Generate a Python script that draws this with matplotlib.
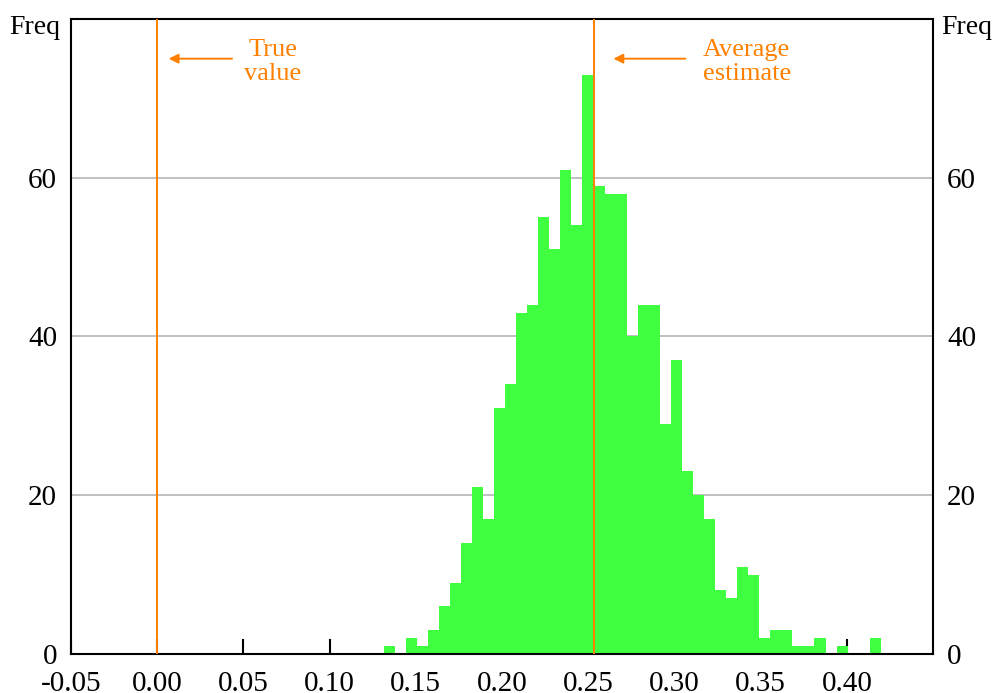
import numpy as np
import matplotlib
matplotlib.use("Agg")
import matplotlib.pyplot as plt

plt.rcParams.update({
    "font.family": ["Liberation Serif", "DejaVu Serif"],
    "axes.unicode_minus": False,
})

# histogram of the estimates (45 equal bins)
BIN_LO = 0.1313
BIN_HI = 0.4197
COUNTS = [1, 0, 2, 1, 3, 6, 9, 14, 21, 17,
          31, 34, 43, 44, 55, 51, 61, 54, 73, 59,
          58, 58, 40, 44, 44, 29, 37, 23, 20, 17,
          8, 7, 11, 10, 2, 3, 3, 1, 1, 2,
          0, 1, 0, 0, 2]
TRUE_VALUE = 0.0
AVG_ESTIMATE = 0.2535
XTICKS = [-0.05, 0.00, 0.05, 0.10, 0.15, 0.20, 0.25, 0.30, 0.35, 0.40]
YTICKS = [0, 20, 40, 60]

GREEN = "#40ff40"
ORANGE = "#ff8000"

fig = plt.figure(figsize=(9.95, 6.93), dpi=100)
ax = fig.add_axes([0.0714, 0.0563, 0.8663, 0.9163])

edges = np.linspace(BIN_LO, BIN_HI, len(COUNTS) + 1)
ax.bar(edges[:-1], COUNTS, width=np.diff(edges), align="edge",
       color=GREEN, linewidth=0, zorder=2)

# reference lines
ax.axvline(TRUE_VALUE, color=ORANGE, linewidth=1.4, zorder=3)
ax.axvline(AVG_ESTIMATE, color=ORANGE, linewidth=1.4, zorder=3)

arrow = dict(arrowstyle="-|>", color=ORANGE, lw=1.4, mutation_scale=14)
ax.annotate("", xy=(TRUE_VALUE + 0.005, 75), xytext=(TRUE_VALUE + 0.045, 75),
            arrowprops=arrow)
ax.text(TRUE_VALUE + 0.067, 74.6, "True\nvalue", color=ORANGE, fontsize=19,
        ha="center", va="center", linespacing=1.12)
ax.annotate("", xy=(AVG_ESTIMATE + 0.0095, 75), xytext=(AVG_ESTIMATE + 0.0545, 75),
            arrowprops=arrow)
ax.text(AVG_ESTIMATE + 0.0885, 74.6, "Average\nestimate", color=ORANGE, fontsize=19,
        ha="center", va="center", linespacing=1.12)

ax.set_xlim(-0.05, 0.45)
ax.set_ylim(0, 80)
ax.set_xticks(XTICKS)
ax.set_xticklabels([f"{v:.2f}" for v in XTICKS])
ax.set_yticks(YTICKS)
ax.yaxis.grid(True, color="#c0c0c0", linewidth=1.4)
ax.set_axisbelow(True)

ax.tick_params(axis="x", direction="in", length=11, width=1.5, labelsize=21, pad=12)
ax.tick_params(axis="y", length=0, labelsize=21, pad=10,
               labelleft=True, labelright=True)
for s in ax.spines.values():
    s.set_linewidth(1.5)

fig.text(0.009, 0.960, "Freq", fontsize=20, ha="left", va="center")
fig.text(0.946, 0.960, "Freq", fontsize=20, ha="left", va="center")

fig.savefig("out.png", dpi=100)
